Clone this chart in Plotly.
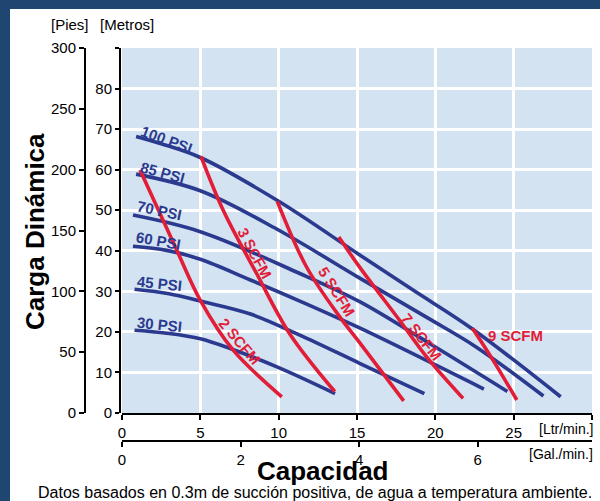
import plotly.graph_objects as go

# ---------------- data ----------------
psi_labels = ["100 PSI", "85 PSI", "70 PSI", "60 PSI", "45 PSI", "30 PSI"]
psi100_x = [0.9, 2.5, 5.0, 10.0, 15.2, 18.7, 22.3, 28.0]
psi100_y = [68.2, 66.4, 63.0, 52.2, 38.9, 30.0, 20.9, 4.0]
psi85_x = [0.9, 5.0, 9.9, 15.2, 19.4, 22.6, 26.9]
psi85_y = [58.9, 54.8, 45.3, 33.2, 23.7, 16.3, 4.2]
psi70_x = [0.7, 5.0, 11.35, 15.2, 19.9, 24.6]
psi70_y = [48.8, 44.7, 34.4, 27.4, 16.5, 5.3]
psi60_x = [0.7, 2.85, 5.0, 8.2, 11.35, 15.2, 23.1]
psi60_y = [41.1, 40.1, 37.9, 32.8, 27.6, 20.9, 5.9]
psi45_x = [0.8, 3.0, 5.0, 8.2, 11.35, 15.2, 19.3]
psi45_y = [30.5, 29.4, 27.6, 24.4, 19.2, 12.2, 4.8]
psi30_x = [0.8, 3.0, 5.0, 6.9, 10.0, 13.6]
psi30_y = [20.4, 19.6, 18.3, 15.9, 11.2, 4.8]

scfm_labels = ["2 SCFM", "3 SCFM", "5 SCFM", "7 SCFM", "9 SCFM"]
scfm2_x = [1.15, 3.5, 5.0, 7.1, 10.2]
scfm2_y = [59.9, 40.1, 27.8, 15.5, 4.0]
scfm3_x = [5.04, 6.46, 8.59, 10.71, 13.58]
scfm3_y = [63.3, 50.0, 34.4, 19.5, 5.3]
scfm5_x = [9.91, 11.78, 13.9, 15.18, 17.98]
scfm5_y = [52.2, 36.0, 23.7, 17.3, 3.0]
scfm7_x = [13.84, 15.18, 17.73, 19.43, 21.77]
scfm7_y = [43.4, 35.9, 22.8, 13.9, 3.6]
scfm9_x = [22.37, 23.68, 25.2]
scfm9_y = [20.9, 13.05, 3.2]

# label anchor positions (data units) and angles
psi_lab_x = [2.85, 2.6, 2.42, 2.32, 2.42, 2.42]
psi_lab_y = [67.4, 59.2, 50.0, 42.6, 31.9, 21.9]
psi_lab_ang = [20, 15, 12, 10, 6, 6]
scfm_lab_x = [7.53, 8.48, 13.69, 19.1, 25.1]
scfm_lab_y = [17.6, 39.3, 29.9, 18.8, 19.2]
scfm_lab_ang = [50, 62, 58, 52, 0]

lpm_ticks = [0, 5, 10, 15, 20, 25, 30]
lpm_text = ["0", "5", "10", "15", "20", "25", ""]
m_ticks = [0, 10, 20, 30, 40, 50, 60, 70, 80, 90]
m_text = ["0", "10", "20", "30", "40", "50", "60", "70", "80", ""]
ft_ticks = [0, 50, 100, 150, 200, 250, 300]
gal_ticks = [0, 2, 4, 6]
LPM_PER_GAL = 3.785

# ---------------- styling / layout ----------------
W, H = 600, 501
ML, MR, MT, MB = 80, 8, 48, 51
PW, PH = W - ML - MR, H - MT - MB
BLUE = "#2b3a8f"
RED = "#e21d37"
BG = "#d3e3f2"
BORDER = "#1f4571"
FONT = "Liberation Sans, Arial, sans-serif"


def px_x(px):
    return (px - ML) / PW


def px_y(py):
    return (H - MB - py) / PH


fig = go.Figure()

psi_series = [(psi100_x, psi100_y), (psi85_x, psi85_y), (psi70_x, psi70_y),
              (psi60_x, psi60_y), (psi45_x, psi45_y), (psi30_x, psi30_y)]
scfm_series = [(scfm2_x, scfm2_y), (scfm3_x, scfm3_y), (scfm5_x, scfm5_y),
               (scfm7_x, scfm7_y), (scfm9_x, scfm9_y)]

for (xs, ys), name in zip(psi_series, psi_labels):
    fig.add_trace(go.Scatter(x=xs, y=ys, mode="lines", name=name,
                             line=dict(color=BLUE, width=3.6, shape="spline", smoothing=1),
                             showlegend=False, hoverinfo="skip"))
for (xs, ys), name in zip(scfm_series, scfm_labels):
    fig.add_trace(go.Scatter(x=xs, y=ys, mode="lines", name=name,
                             line=dict(color=RED, width=3.6, shape="spline", smoothing=1),
                             showlegend=False, hoverinfo="skip"))

# invisible traces to activate secondary axes
fig.add_trace(go.Scatter(x=[0], y=[0], xaxis="x2", yaxis="y", mode="markers",
                         marker=dict(opacity=0), showlegend=False, hoverinfo="skip"))
fig.add_trace(go.Scatter(x=[0], y=[0], xaxis="x", yaxis="y2", mode="markers",
                         marker=dict(opacity=0), showlegend=False, hoverinfo="skip"))

x_dom = [px_x(122), 1]
y_dom = [px_y(413), 1]

tickfont = dict(family=FONT, size=15, color="black")

fig.update_layout(
    width=W, height=H,
    margin=dict(l=ML, r=MR, t=MT, b=MB),
    paper_bgcolor="white",
    plot_bgcolor=BG,
    font=dict(family=FONT, color="black"),
    xaxis=dict(domain=x_dom, range=[0, 30], tickvals=lpm_ticks, ticktext=lpm_text,
               showgrid=True, gridcolor="white", gridwidth=3, zeroline=False,
               showline=True, linecolor="black", linewidth=2,
               ticks="outside", ticklen=5, tickwidth=2, tickcolor="black",
               tickfont=tickfont, anchor="y"),
    yaxis=dict(domain=y_dom, range=[0, 90], tickvals=m_ticks, ticktext=m_text,
               showgrid=True, gridcolor="white", gridwidth=3, zeroline=False,
               showline=True, linecolor="black", linewidth=2,
               ticks="outside", ticklen=4, tickwidth=2, tickcolor="black",
               tickfont=tickfont, anchor="free", position=px_x(120)),
    xaxis2=dict(domain=x_dom, range=[0, 30 / LPM_PER_GAL], overlaying="x",
                anchor="free", position=px_y(441), side="bottom",
                tickvals=gal_ticks, showgrid=False, zeroline=False,
                showline=True, linecolor="black", linewidth=2,
                ticks="outside", ticklen=5, tickwidth=2, tickcolor="black",
                tickfont=tickfont),
    yaxis2=dict(domain=y_dom, range=[0, 300], overlaying="y",
                anchor="free", position=px_x(85), side="left",
                tickvals=ft_ticks, showgrid=False, zeroline=False,
                showline=True, linecolor="black", linewidth=2,
                ticks="outside", ticklen=5, tickwidth=2, tickcolor="black",
                tickfont=tickfont),
)

# curve labels
for t, x, y, a in zip(psi_labels, psi_lab_x, psi_lab_y, psi_lab_ang):
    fig.add_annotation(x=x, y=y, xref="x", yref="y", text="<b>%s</b>" % t,
                       showarrow=False, textangle=a,
                       font=dict(family=FONT, size=15, color=BLUE))
for t, x, y, a in zip(scfm_labels, scfm_lab_x, scfm_lab_y, scfm_lab_ang):
    fig.add_annotation(x=x, y=y, xref="x", yref="y", text="<b>%s</b>" % t,
                       showarrow=False, textangle=a,
                       font=dict(family=FONT, size=15, color=RED))


def ann(text, px, py, size, xanchor="center", angle=0):
    fig.add_annotation(x=px_x(px), y=px_y(py), xref="paper", yref="paper",
                       text=text, showarrow=False, xanchor=xanchor, yanchor="middle",
                       textangle=angle, font=dict(family=FONT, size=size, color="black"))


ann("[Pies]", 70, 24, 15)
ann("[Metros]", 127, 24, 15)
ann("<b>Carga Dinámica</b>", 35, 232, 26, angle=-90)
ann("<b>Capacidad</b>", 323, 471, 26)
ann("Datos basados en 0.3m de succión positiva, de agua a temperatura ambiente.", 315, 493, 16)
ann("[Ltr/min.]", 595, 429, 14, xanchor="right")
ann("[Gal./min.]", 595, 454, 14, xanchor="right")

# dark blue frame strips (top and left)
fig.add_shape(type="rect", xref="paper", yref="paper", x0=px_x(0), x1=px_x(W),
              y0=px_y(9), y1=px_y(0), fillcolor=BORDER, line=dict(width=0), layer="above")
fig.add_shape(type="rect", xref="paper", yref="paper", x0=px_x(0), x1=px_x(10),
              y0=px_y(H), y1=px_y(0), fillcolor=BORDER, line=dict(width=0), layer="above")

fig.write_html("out.html", config={"displayModeBar": False},
               post_script="document.body.style.margin='0px';document.body.style.overflow='hidden';")
